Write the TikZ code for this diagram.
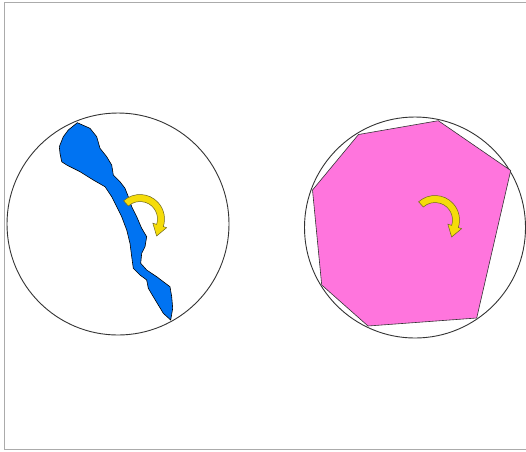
\documentclass[tikz,border=0pt]{standalone}
\usepackage{tikz}
\usepackage{xcolor}
\usetikzlibrary{calc}
\definecolor{FrameGray}{HTML}{ABABAB}
\definecolor{RimGray}{HTML}{333333}
\definecolor{RiverBlue}{HTML}{0073F2}
\definecolor{PlatePink}{HTML}{FF75DD}
\definecolor{SpinYellow}{HTML}{F5DC0A}
\definecolor{SpinEdge}{HTML}{6B6420}
\tikzset{
  rim/.style={draw=RimGray,line width=0.9pt},
  spinarrow/.style={fill=SpinYellow,draw=SpinEdge,line width=0.5pt,line join=miter},
}
\newcommand{\spinarrow}[1]{\draw[spinarrow,shift={(#1)}] (-132:24.5) arc[start angle=-132,end angle=18,radius=24.5] -- (18:28) -- (16.6,17) -- (18:13.5) -- (18:17.5) arc[start angle=18,end angle=-132,radius=17.5] -- cycle;}

\begin{document}
\begin{tikzpicture}[x=1pt,y=-1pt]
  \useasboundingbox (0,0) rectangle (526,451);
  \draw[FrameGray,line width=1.5pt] (4.5,2.5) rectangle (540,449.5);
  % left disc
  \coordinate (leftc) at (118,224);
  \draw[rim] (leftc) circle[radius=111];
  \filldraw[fill=RiverBlue,draw=black,line width=0.6pt] (77.3,122.7) -- (90,128.3) -- (96.7,136.7) -- (100,148.3) -- (106.7,156.7) -- (111.7,165) -- (113.3,175) -- (120,181.7) -- (125,188.3) -- (128.3,196.7) -- (131.7,206.7) -- (136.7,216.7) -- (141.7,228.3) -- (146.7,236.7) -- (145,246.7) -- (141.7,253.3) -- (140.7,263.3) -- (146.7,270) -- (156.7,276.7) -- (170,286.7) -- (171.7,296.7) -- (172.7,308.3) -- (170.7,320) -- (163.3,313.3) -- (158.3,305) -- (153.3,296.7) -- (148.3,288.3) -- (146.7,280) -- (140,275) -- (133.3,268.3) -- (131.7,256.7) -- (130,243.3) -- (126.7,230) -- (121.7,216.7) -- (116.7,206.7) -- (111.7,196.7) -- (105,186.7) -- (93.3,180) -- (80,171.7) -- (66.7,165) -- (61.7,161.7) -- (60,153.3) -- (59.3,146.7) -- (63.3,136.7) -- (68.3,130) -- cycle;
  \spinarrow{140,219}
  % right disc
  \coordinate (rightc) at (415,227.5);
  \draw[rim] (rightc) circle[radius=110.5];
  \filldraw[fill=PlatePink,draw=RimGray,line width=0.6pt] (438.3,120.7) -- (510.7,170.5) -- (476.7,318) -- (368,326) -- (321.7,285) -- (312.5,190) -- (358.5,134.5) -- cycle;
  \spinarrow{435,220}
\end{tikzpicture}
\end{document}
